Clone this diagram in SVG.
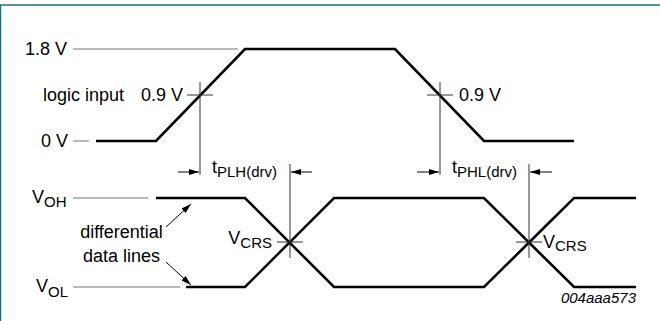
<svg xmlns="http://www.w3.org/2000/svg" width="660" height="321" viewBox="0 0 660 321">
<style>
text{font-family:"Liberation Sans",Arial,sans-serif;font-size:18px;fill:#000}
.sub{font-size:15px}
.thin{stroke:#777;stroke-width:1.2;fill:none}
.tick{stroke:#333;stroke-width:1;fill:none}
.wave{stroke:#000;stroke-width:2.6;fill:none;stroke-linejoin:miter}
.arr{stroke:#000;stroke-width:1;fill:none}
</style>
<defs>
<marker id="ah" viewBox="0 0 10 6" refX="10" refY="3" markerWidth="10" markerHeight="6" markerUnits="userSpaceOnUse" orient="auto">
<path d="M0,0 L10,3 L0,6 Z" fill="#000"/>
</marker>
</defs>
<rect width="660" height="321" fill="#fff"/>
<g id="frame">
<path d="M0.5,321 V5 H660" stroke="#1a7080" stroke-width="1.5" fill="none"/>
</g>
<g id="labels">
<text x="67" y="55" text-anchor="end">1.8 V</text>
<text x="43" y="101">logic input</text>
<text x="183" y="101" text-anchor="end">0.9 V</text>
<text x="68" y="147" text-anchor="end">0 V</text>
<text x="459" y="101">0.9 V</text>
<text x="32" y="203">V<tspan class="sub" dy="4">OH</tspan></text>
<text x="36" y="292">V<tspan class="sub" dy="5">OL</tspan></text>
<text x="121.5" y="238" text-anchor="middle">differential</text>
<text x="121.5" y="262" text-anchor="middle">data lines</text>
<text x="272" y="244" text-anchor="end">V<tspan class="sub" dy="4">CRS</tspan></text>
<text x="543" y="248">V<tspan class="sub" dy="3">CRS</tspan></text>
<text x="212" y="173">t<tspan class="sub" dy="4">PLH(drv)</tspan></text>
<text x="452" y="173">t<tspan class="sub" dy="4">PHL(drv)</tspan></text>
<text x="636" y="303" text-anchor="end" style="font-style:italic;font-size:15px">004aaa573</text>
</g>
<g id="reference-lines">
<path class="thin" d="M73,49 H238 M73,141 H89 M73,198 H148 M73,287 H180"/>
</g>
<g id="logic-input">
<path class="wave" d="M96,141 H156 L245,49 H395 L484,141 H574"/>
</g>
<g id="data-line-1">
<path class="wave" d="M156,198 H245 L334,287 H484 L574,198 H636"/>
</g>
<g id="data-line-2">
<path class="wave" d="M186,287 H245 L334,198 H484 L574,287 H636"/>
</g>
<g id="connectors">
<path class="tick" d="M200,82 V175 M187,95 H213"/>
<path class="tick" d="M440,82 V175 M427,95 H453"/>
<path class="tick" d="M290,164 V258 M277,242 H303"/>
<path class="tick" d="M529,164 V258 M516,242 H542"/>
<path class="arr" marker-end="url(#ah)" d="M178,172 H199"/>
<path class="arr" marker-end="url(#ah)" d="M312,172 H291"/>
<path class="arr" marker-end="url(#ah)" d="M417,172 H439"/>
<path class="arr" marker-end="url(#ah)" d="M552,172 H530"/>
<path class="arr" marker-end="url(#ah)" d="M166,227 L191,204"/>
<path class="arr" marker-end="url(#ah)" d="M166,262 L191,285"/>
</g>
</svg>
